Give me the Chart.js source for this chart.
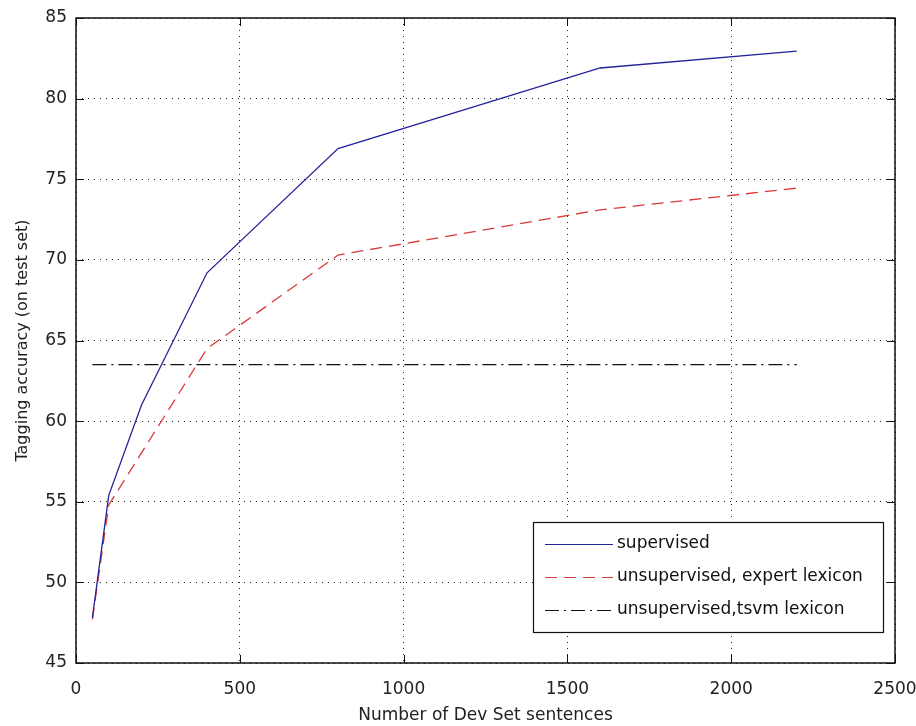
<!DOCTYPE html>
<html>
<head>
<meta charset="utf-8">
<script src="https://cdn.jsdelivr.net/npm/chart.js@4.4.1/dist/chart.umd.min.js"></script>
<style>
  html, body { margin: 0; padding: 0; background: #fff; }
  #wrap { width: 916px; height: 726px; }
</style>
</head>
<body>
<div id="wrap"><canvas id="accChart" width="916" height="726"></canvas></div>
<script>
// values
const sentences = [50, 100, 200, 400, 800, 1600, 2200];
const supervised = [47.8, 55.4, 61.0, 69.2, 76.9, 81.9, 82.95];
const expertSentences = [50, 100, 400, 800, 1600, 2200];
const expertLexicon = [47.7, 54.8, 64.5, 70.3, 73.1, 74.45];
const tsvmSentences = [50, 2200];
const tsvmLexicon = [63.5, 63.5];
const xTicks = [0, 500, 1000, 1500, 2000, 2500];
const yTicks = [45, 50, 55, 60, 65, 70, 75, 80, 85];

const seriesNames = ['supervised', 'unsupervised, expert lexicon', 'unsupervised,tsvm lexicon'];
const seriesColors = ['#23239a', '#d83a3a', '#111111'];
const seriesDash = [[], [12, 7], [14, 5, 2, 5]];

function toPoints(xs, ys) {
    return xs.map((x, i) => ({ x: x, y: ys[i] }));
}

// box, inward ticks and legend drawn like the matlab figure
const framePlugin = {
    id: 'frame',
    afterDatasetsDraw(chart) {
        const ctx = chart.ctx;
        const a = chart.chartArea;
        const xs = chart.scales.x, ys = chart.scales.y;
        ctx.save();
        ctx.strokeStyle = '#111';
        ctx.lineWidth = 1.5;
        ctx.setLineDash([]);
        ctx.strokeRect(a.left, a.top, a.right - a.left, a.bottom - a.top);
        ctx.lineWidth = 1;
        ctx.beginPath();
        xTicks.forEach(v => {
            const px = Math.round(xs.getPixelForValue(v)) + 0.5;
            ctx.moveTo(px, a.bottom); ctx.lineTo(px, a.bottom - 8);
            ctx.moveTo(px, a.top); ctx.lineTo(px, a.top + 8);
        });
        yTicks.forEach(v => {
            const py = Math.round(ys.getPixelForValue(v)) + 0.5;
            ctx.moveTo(a.left, py); ctx.lineTo(a.left + 8, py);
            ctx.moveTo(a.right, py); ctx.lineTo(a.right - 8, py);
        });
        ctx.stroke();

        // legend box
        const lx = 533, ly = 522, lw = 350, lh = 110;
        ctx.fillStyle = '#fff';
        ctx.fillRect(lx, ly, lw, lh);
        ctx.strokeStyle = '#111';
        ctx.lineWidth = 1.2;
        ctx.strokeRect(lx + 0.5, ly + 0.5, lw, lh);
        ctx.font = '17px "DejaVu Sans", sans-serif';
        ctx.textBaseline = 'middle';
        seriesNames.forEach((name, i) => {
            const y = ly + 22 + i * 33;
            ctx.strokeStyle = seriesColors[i];
            ctx.lineWidth = 1.2;
            ctx.setLineDash(seriesDash[i]);
            ctx.beginPath();
            ctx.moveTo(lx + 12, y + 0.5);
            ctx.lineTo(lx + 80, y + 0.5);
            ctx.stroke();
            ctx.setLineDash([]);
            ctx.fillStyle = '#111';
            ctx.fillText(name, lx + 84, y);
        });
        ctx.restore();
    }
};

const ctx = document.getElementById('accChart').getContext('2d');
new Chart(ctx, {
    type: 'line',
    data: {
        datasets: [
            {
                label: seriesNames[0],
                data: toPoints(sentences, supervised),
                borderColor: seriesColors[0],
                borderWidth: 1.3,
                pointRadius: 0,
                tension: 0
            },
            {
                label: seriesNames[1],
                data: toPoints(expertSentences, expertLexicon),
                borderColor: seriesColors[1],
                borderDash: seriesDash[1],
                borderWidth: 1.3,
                pointRadius: 0,
                tension: 0
            },
            {
                label: seriesNames[2],
                data: toPoints(tsvmSentences, tsvmLexicon),
                borderColor: seriesColors[2],
                borderDash: seriesDash[2],
                borderWidth: 1.3,
                pointRadius: 0,
                tension: 0
            }
        ]
    },
    options: {
        responsive: false,
        animation: false,
        layout: { padding: { left: 0, top: 18, right: 21, bottom: 0 } },
        plugins: {
            legend: { display: false },
            tooltip: { enabled: false }
        },
        scales: {
            x: {
                type: 'linear',
                min: 0,
                max: 2500,
                afterBuildTicks: s => { s.ticks = xTicks.map(v => ({ value: v })); },
                afterFit: s => { s.height = 63; s.paddingLeft = 0; s.paddingRight = 0; },
                grid: { color: '#222', lineWidth: 1, drawTicks: false },
                border: { display: false, dash: [1, 5] },
                ticks: { color: '#222', padding: 16, maxRotation: 0, callback: v => String(v), font: { size: 17, family: '"DejaVu Sans", sans-serif' } },
                title: { display: true, text: 'Number of Dev Set sentences', color: '#222', padding: { top: 0, bottom: 0 }, font: { size: 17, family: '"DejaVu Sans", sans-serif' } }
            },
            y: {
                type: 'linear',
                min: 45,
                max: 85,
                afterBuildTicks: s => { s.ticks = yTicks.map(v => ({ value: v })); },
                afterFit: s => { s.width = 76; s.paddingTop = 0; s.paddingBottom = 0; },
                grid: { color: '#222', lineWidth: 1, drawTicks: false },
                border: { display: false, dash: [1, 5] },
                ticks: { color: '#222', padding: 9, callback: v => String(v), font: { size: 17, family: '"DejaVu Sans", sans-serif' } },
                title: { display: true, text: 'Tagging accuracy (on test set)', color: '#222', padding: { top: 13, bottom: 0 }, font: { size: 16, family: '"DejaVu Sans", sans-serif' } }
            }
        }
    },
    plugins: [framePlugin]
});
</script>
</body>
</html>
